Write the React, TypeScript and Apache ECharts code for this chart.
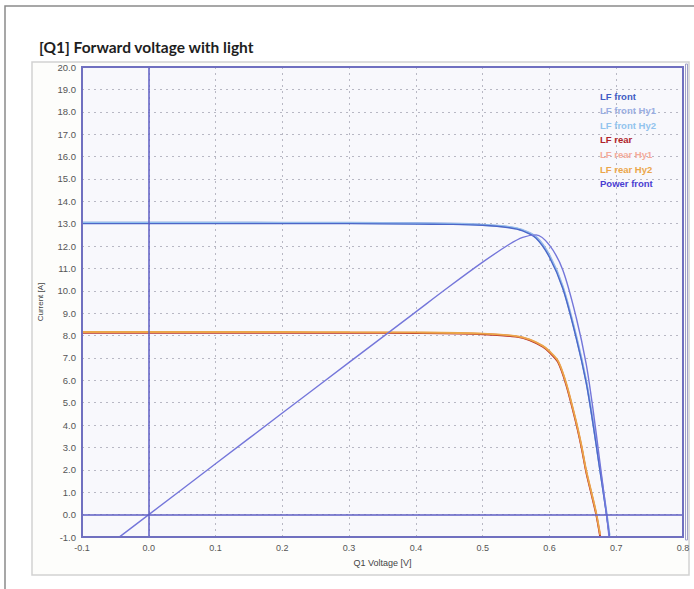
import React, { useEffect, useRef } from "react";
import * as echarts from "echarts";

// ---- Data ----
const FRONT_V = [-0.1, 0.0, 0.1, 0.2, 0.3, 0.4, 0.45, 0.5, 0.54, 0.56, 0.58, 0.6, 0.62, 0.64, 0.655, 0.665, 0.675, 0.685, 0.69];
const LF_FRONT_I = [13.0, 13.0, 13.0, 13.0, 13.0, 12.98, 12.97, 12.93, 12.82, 12.68, 12.35, 11.5, 10.1, 7.9, 5.9, 4.1, 2.1, 0.1, -1.0];
const LF_FRONT_HY1_I = [13.06, 13.06, 13.06, 13.05, 13.04, 13.03, 13.01, 12.96, 12.86, 12.72, 12.42, 11.6, 10.2, 8.0, 6.0, 4.2, 2.2, 0.2, -0.9];
const LF_FRONT_HY2_I = [13.03, 13.03, 13.03, 13.02, 13.02, 13.0, 12.99, 12.94, 12.84, 12.7, 12.38, 11.55, 10.15, 7.95, 5.95, 4.15, 2.15, 0.15, -0.95];
const POWER_FRONT = [-2.27, 0.0, 2.27, 4.54, 6.8, 9.06, 10.19, 11.28, 12.08, 12.39, 12.5, 12.04, 10.93, 8.82, 6.74, 4.76, 2.47, 0.12, -1.2];

const REAR_V = [-0.1, 0.0, 0.1, 0.2, 0.3, 0.4, 0.5, 0.55, 0.57, 0.59, 0.6, 0.613, 0.625, 0.639, 0.648, 0.655, 0.663, 0.67, 0.676];
const LF_REAR_I = [8.12, 8.12, 8.12, 8.12, 8.12, 8.11, 8.06, 7.95, 7.8, 7.5, 7.25, 6.8, 5.8, 4.2, 3.0, 1.9, 0.9, 0.0, -1.0];
const LF_REAR_HY1_I = [8.15, 8.15, 8.15, 8.15, 8.14, 8.13, 8.08, 7.97, 7.82, 7.53, 7.28, 6.84, 5.85, 4.25, 3.05, 1.95, 0.95, 0.05, -0.95];
const LF_REAR_HY2_I = [8.16, 8.16, 8.16, 8.16, 8.15, 8.14, 8.09, 7.98, 7.83, 7.54, 7.3, 6.86, 5.88, 4.28, 3.08, 1.98, 0.98, 0.08, -0.9];

const SERIES_NAMES = ["LF front", "LF front Hy1", "LF front Hy2", "LF rear", "LF rear Hy1", "LF rear Hy2", "Power front"];
const LEGEND_COLORS = ["#3f5cc4", "#9aaee2", "#92c4ee", "#b0242a", "#f4ab9a", "#eba64a", "#4a3ed2"];
const LINE_COLORS = ["#4d66c8", "#9aaee2", "#92c4ee", "#b8322c", "#f4ab9a", "#eba64a", "#7476da"];

const TITLE = "[Q1] Forward voltage with light";
const X_NAME = "Q1 Voltage [V]";
const Y_NAME = "Current [A]";

const zip = (xs: number[], ys: number[]) => xs.map((x, i) => [x, ys[i]]);

export default function App() {
  const ref = useRef<HTMLDivElement>(null);
  useEffect(() => {
    if (!ref.current) return;
    const chart = echarts.init(ref.current, null, { renderer: "svg" });
    const dataSets = [
      zip(FRONT_V, LF_FRONT_I),
      zip(FRONT_V, LF_FRONT_HY1_I),
      zip(FRONT_V, LF_FRONT_HY2_I),
      zip(REAR_V, LF_REAR_I),
      zip(REAR_V, LF_REAR_HY1_I),
      zip(REAR_V, LF_REAR_HY2_I),
      zip(FRONT_V, POWER_FRONT),
    ];
    const drawOrder = [1, 2, 0, 4, 3, 5, 6];
    const series: any[] = drawOrder.map((idx) => ({
      name: SERIES_NAMES[idx],
      type: "line",
      data: dataSets[idx],
      smooth: 0.3,
      showSymbol: false,
      symbol: "none",
      color: LEGEND_COLORS[idx],
      lineStyle: { width: idx === 6 || idx === 0 ? 1.4 : 1.8, color: LINE_COLORS[idx] },
      z: 3,
    }));
    series.push({
      name: "cursor",
      type: "line",
      data: [],
      silent: true,
      markLine: {
        silent: true,
        symbol: "none",
        label: { show: false },
        lineStyle: { color: "#5e5ec4", width: 1.5, type: "solid" },
        data: [{ xAxis: 0 }, { yAxis: 0 }],
      },
      z: 2,
    });
    chart.setOption({
      animation: false,
      backgroundColor: "#ffffff",
      textStyle: { fontFamily: "Liberation Sans, Arial, sans-serif" },
      title: {
        text: TITLE,
        left: 34,
        top: 34,
        textStyle: { fontFamily: "Lato, Open Sans, sans-serif", fontWeight: "bold", fontSize: 15.5, color: "#1e1e1e" },
      },
      graphic: [
        { type: "polyline", shape: { points: [[5, 589], [5, 6], [694, 6]] }, style: { stroke: "#8a8a8a", lineWidth: 1.5, fill: null }, z: -10 },
        { type: "rect", shape: { x: 32, y: 62, width: 657, height: 513 }, style: { stroke: "#d2d2d2", lineWidth: 1.5, fill: "#fdfdfb" }, z: -9 },
        { type: "rect", shape: { x: 82, y: 67, width: 601, height: 470 }, style: { stroke: "#7070c0", lineWidth: 2, fill: null }, z: 50, silent: true },
        { type: "rect", shape: { x: 685.5, y: 64, width: 2, height: 476 }, style: { stroke: "#a0a0c8", lineWidth: 1, fill: null }, z: 50, silent: true },
      ],
      legend: {
        orient: "vertical",
        left: 595,
        top: 86,
        itemWidth: 0,
        itemHeight: 0,
        itemGap: 4.6,
        icon: "rect",
        selectedMode: false,
        data: SERIES_NAMES.map((n, i) => ({ name: n, textStyle: { color: LEGEND_COLORS[i] } })),
        textStyle: { fontSize: 9.5, fontWeight: "bold", fontFamily: "Liberation Sans, Arial, sans-serif", padding: [0, 0, 0, -5] },
      },
      grid: {
        left: 82,
        right: 11,
        top: 67,
        bottom: 52,
        show: true,
        backgroundColor: "#f8f8fc",
        borderWidth: 0,
      },
      xAxis: {
        type: "value",
        min: -0.1,
        max: 0.8,
        interval: 0.1,
        name: X_NAME,
        nameLocation: "middle",
        nameGap: 21,
        nameTextStyle: { fontSize: 9, color: "#444" },
        axisLine: { show: false },
        axisTick: { show: false },
        axisLabel: { fontSize: 9, color: "#555", margin: 6, formatter: (v: number) => (Math.abs(v) < 1e-9 ? "0.0" : v.toFixed(1)) },
        splitLine: { show: true, lineStyle: { color: "#b8b8c4", type: [2, 4], width: 1 } },
      },
      yAxis: {
        type: "value",
        min: -1,
        max: 20,
        interval: 1,
        name: Y_NAME,
        nameLocation: "middle",
        nameGap: 38,
        nameTextStyle: { fontSize: 8, color: "#444" },
        axisLine: { show: false },
        axisTick: { show: false },
        axisLabel: { fontSize: 9.5, color: "#555", margin: 6, formatter: (v: number) => v.toFixed(1) },
        splitLine: { show: true, lineStyle: { color: "#b8b8c4", type: [2, 4], width: 1 } },
      },
      series,
    });
    return () => chart.dispose();
  }, []);
  return <div ref={ref} style={{ position: "fixed", left: 0, top: 0, width: 694, height: 589 }} />;
}
